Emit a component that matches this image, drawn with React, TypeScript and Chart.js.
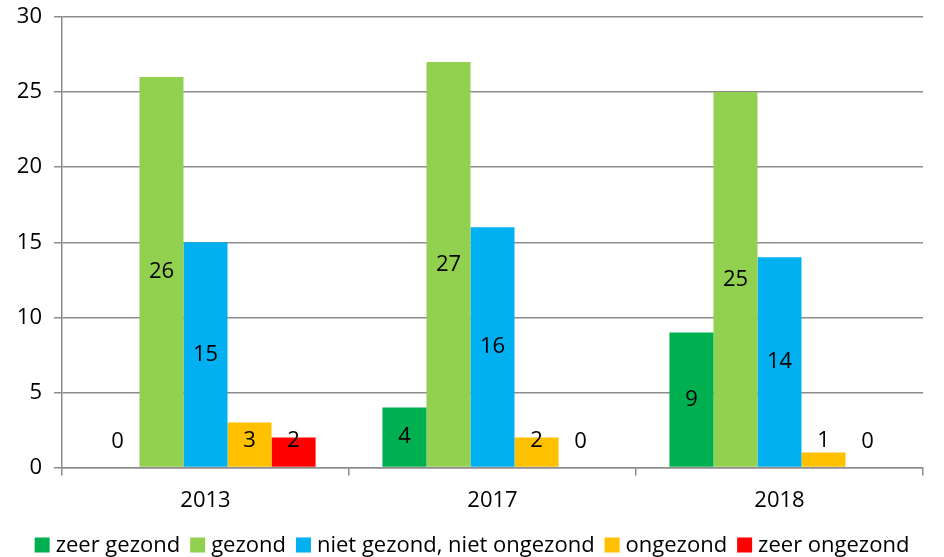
import React, { useEffect, useRef } from "react";
import { Chart, registerables } from "chart.js";

Chart.register(...registerables);

const categories = ["2013", "2017", "2018"];
const seriesNames = ["zeer gezond", "gezond", "niet gezond, niet ongezond", "ongezond", "zeer ongezond"];
const zeerGezond = [0, 4, 9];
const gezond = [26, 27, 25];
const nietGezondNietOngezond = [15, 16, 14];
const ongezond = [3, 2, 1];
const zeerOngezond = [2, 0, 0];
const seriesColors = ["#00B050", "#92D050", "#00B0F0", "#FFC000", "#FF0000"];
const yTicks = { min: 0, max: 30, step: 5 };

const FONT = "'Open Sans', 'Noto Sans', sans-serif";
const FS = 22;

const labelPlugin = {
  id: "barLabels",
  afterDatasetsDraw(chart: any) {
    const ctx = chart.ctx;
    ctx.save();
    ctx.font = `${FS}px ${FONT}`;
    ctx.fillStyle = "#000";
    ctx.textAlign = "center";
    ctx.textBaseline = "middle";
    chart.data.datasets.forEach((ds: any, i: number) => {
      const meta = chart.getDatasetMeta(i);
      meta.data.forEach((bar: any, j: number) => {
        const v = ds.data[j];
        const base = bar.base;
        const center = (bar.y + base) / 2;
        const y = Math.min(center, base - 26);
        ctx.fillText(String(v), bar.x, y);
      });
    });
    ctx.restore();
  },
};

const legendPlugin = {
  id: "customLegend",
  afterDraw(chart: any) {
    const ctx = chart.ctx;
    ctx.save();
    ctx.font = `${FS}px ${FONT}`;
    ctx.textBaseline = "middle";
    ctx.textAlign = "left";
    const box = 15;
    const gap = 6;
    const spacing = 10;
    const widths = seriesNames.map((n) => box + gap + ctx.measureText(n).width);
    const total = widths.reduce((a, b) => a + b, 0) + spacing * (widths.length - 1);
    let x = (chart.width - total) / 2;
    const y = 545;
    seriesNames.forEach((n, i) => {
      ctx.fillStyle = seriesColors[i];
      ctx.fillRect(x, y - box / 2, box, box);
      ctx.fillStyle = "#000";
      ctx.fillText(n, x + box + gap, y + 1);
      x += widths[i] + spacing;
    });
    ctx.restore();
  },
};

export default function App() {
  const ref = useRef<HTMLCanvasElement>(null);
  useEffect(() => {
    document.body.style.margin = "0";
    const values = [zeerGezond, gezond, nietGezondNietOngezond, ongezond, zeerOngezond];
    const chart = new Chart(ref.current!, {
      type: "bar",
      data: {
        labels: categories,
        datasets: seriesNames.map((name, i) => ({
          label: name,
          data: values[i],
          backgroundColor: seriesColors[i],
          borderWidth: 0,
          categoryPercentage: 0.767,
          barPercentage: 1,
        })),
      },
      options: {
        animation: false,
        responsive: false,
        maintainAspectRatio: false,
        layout: { padding: { left: 0, right: 21, top: 4, bottom: 31 } },
        plugins: {
          tooltip: { enabled: false },
          legend: { display: false },
        },
        scales: {
          x: {
            grid: {
              offset: true,
              drawOnChartArea: false,
              drawTicks: true,
              tickLength: 8,
              color: "#8C8C8C",
              lineWidth: 1.5,
            },
            border: { color: "#8C8C8C", width: 1.5 },
            ticks: { font: { family: FONT, size: FS }, color: "#000", padding: 12 },
          },
          y: {
            min: yTicks.min,
            max: yTicks.max,
            afterFit(scale: any) {
              scale.width = 62;
              scale.paddingTop = 17;
              scale.paddingBottom = 0;
            },
            ticks: {
              stepSize: yTicks.step,
              font: { family: FONT, size: FS },
              color: "#000",
              padding: 12,
            },
            grid: { color: "#8C8C8C", lineWidth: 1.5, tickLength: 8 },
            border: { color: "#8C8C8C", width: 1.5 },
          },
        },
      },
      plugins: [labelPlugin, legendPlugin],
    });
    return () => chart.destroy();
  }, []);
  return (
    <div style={{ width: 944, height: 557 }}>
      <canvas ref={ref} width={944} height={557} style={{ width: 944, height: 557 }} />
    </div>
  );
}
